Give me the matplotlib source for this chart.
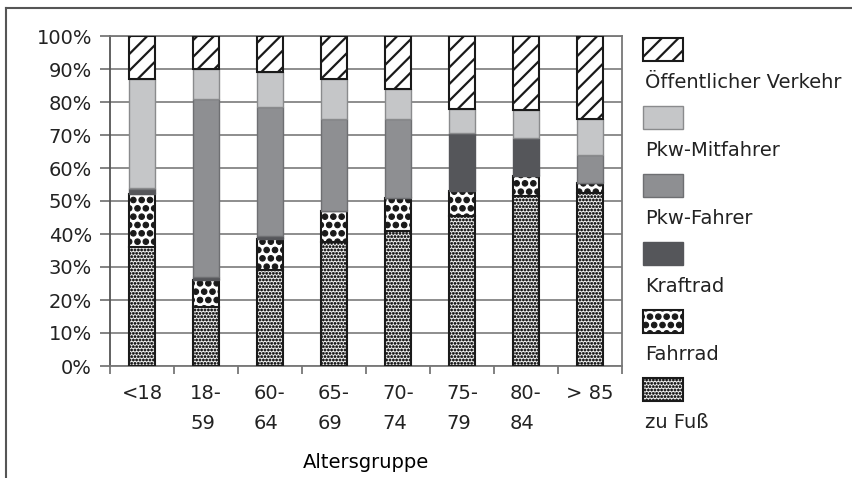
import numpy as np
import matplotlib
matplotlib.use('Agg')
import matplotlib.pyplot as plt
import matplotlib.hatch as mhatch
from matplotlib.patches import Rectangle
from matplotlib.lines import Line2D

# Kann die Schraffur-Linienstärke pro Fläche gesetzt werden?
per_patch = hasattr(Rectangle, 'set_hatch_linewidth')

# Punktmuster: große gefüllte Punkte (Fahrrad), feine Punkte (zu Fuß)
mhatch.LargeCircles.filled = True
if per_patch:
    mhatch.LargeCircles.size = 0.33
    mhatch.SmallFilledCircles.size = 0.34
else:
    mhatch.LargeCircles.size = 0.3
    mhatch.SmallFilledCircles.size = 0.22

plt.rcParams['font.family'] = ['DejaVu Sans']
plt.rcParams['font.size'] = 14
plt.rcParams['hatch.linewidth'] = 1.0
plt.rcParams['text.color'] = '#222222'
plt.rcParams['xtick.color'] = '#777777'
plt.rcParams['ytick.color'] = '#777777'
plt.rcParams['xtick.labelcolor'] = '#222222'
plt.rcParams['ytick.labelcolor'] = '#222222'

# Daten (Anteile in %)
gruppen = ['<18', '18-\n59', '60-\n64', '65-\n69', '70-\n74', '75-\n79', '80-\n84', '> 85']
zu_fuss = [36, 18, 29, 37.5, 41, 45.5, 51.5, 52.5]
fahrrad = [16, 8, 9.5, 9.5, 10, 7.5, 6, 3]
kraftrad = [1.5, 1, 1, 0, 0, 17.5, 11.5, 0]
pkw_fahrer = [0.5, 54, 39, 28, 24, 0, 0, 8.5]
pkw_mitfahrer = [33, 9, 10.5, 12, 9, 7.5, 8.5, 11]
oev = [13, 10, 11, 13, 16, 22, 22.5, 25]

namen = ['zu Fuß', 'Fahrrad', 'Kraftrad', 'Pkw-Fahrer', 'Pkw-Mitfahrer', 'Öffentlicher Verkehr']
serien = [zu_fuss, fahrrad, kraftrad, pkw_fahrer, pkw_mitfahrer, oev]
# (Füllung, Rand, Schraffur, Schraffur-Linienstärke)
stile = [('white', '#1a1a1a', '.....', 0.4),
         ('white', '#1a1a1a', 'OO', 0.8),
         ('#55565a', '#55565a', None, 1.0),
         ('#8e8f92', '#6e6f72', None, 1.0),
         ('#c5c6c8', '#8a8b8d', None, 1.0),
         ('white', '#1a1a1a', '//', 1.6)]


def hatch_lw(p, hl):
    if per_patch:
        p.set_hatch_linewidth(hl)


fig = plt.figure(figsize=(8.53, 4.78), dpi=100)
ax = fig.add_axes([110/853, 112/478, 512/853, 330/478])

x = np.arange(len(gruppen)) + 0.5
unten = np.zeros(len(gruppen))
for werte, (fc, ec, h, hl) in zip(serien, stile):
    bars = ax.bar(x, werte, width=0.42, bottom=unten, color=fc, edgecolor=ec,
                  hatch=h, linewidth=1.5 if h else 1.0, zorder=3)
    for b in bars:
        hatch_lw(b, hl)
    unten += np.array(werte)

ax.set_xlim(0, len(gruppen))
ax.set_ylim(0, 100)
ax.set_yticks(np.arange(0, 101, 10))
ax.set_yticklabels([f'{v}%' for v in range(0, 101, 10)])
ax.yaxis.grid(True, color='#858585', linewidth=1.3, zorder=0)
ax.set_axisbelow(True)

ax.set_xticks(np.arange(0, len(gruppen) + 1))
ax.set_xticklabels([])
ax.set_xticks(x, minor=True)
ax.set_xticklabels(gruppen, minor=True, multialignment='left', linespacing=1.75)
ax.tick_params(axis='x', which='major', length=6, width=1.3, direction='out')
ax.tick_params(axis='x', which='minor', length=0, pad=13)
ax.tick_params(axis='y', length=7, width=1.3, pad=6)
for s in ax.spines.values():
    s.set_color('#777777')
    s.set_linewidth(1.3)
ax.spines['left'].set_color('#555555')
ax.set_xlabel('Altersgruppe', labelpad=14)

# Legende (Beschriftung unter dem Symbol)
for i, (name, (fc, ec, h, hl)) in enumerate(reversed(list(zip(namen, stile)))):
    top = 38 + i * 68
    r = Rectangle((643/853, 1 - (top + 23)/478), 40/853, 23/478, transform=fig.transFigure,
                  facecolor=fc, edgecolor=ec, hatch=h, linewidth=1.5 if h else 1.0)
    hatch_lw(r, hl)
    fig.patches.append(r)
    fig.text(645/853, 1 - (top + 44)/478, name, ha='left', va='center')

# Rahmen
fig.add_artist(Line2D([6/853, 6/853], [0, 1 - 8/478], color='#555555', linewidth=1.5))
fig.add_artist(Line2D([6/853, 1], [1 - 8/478, 1 - 8/478], color='#555555', linewidth=1.5))

fig.savefig('out.png', dpi=100)
